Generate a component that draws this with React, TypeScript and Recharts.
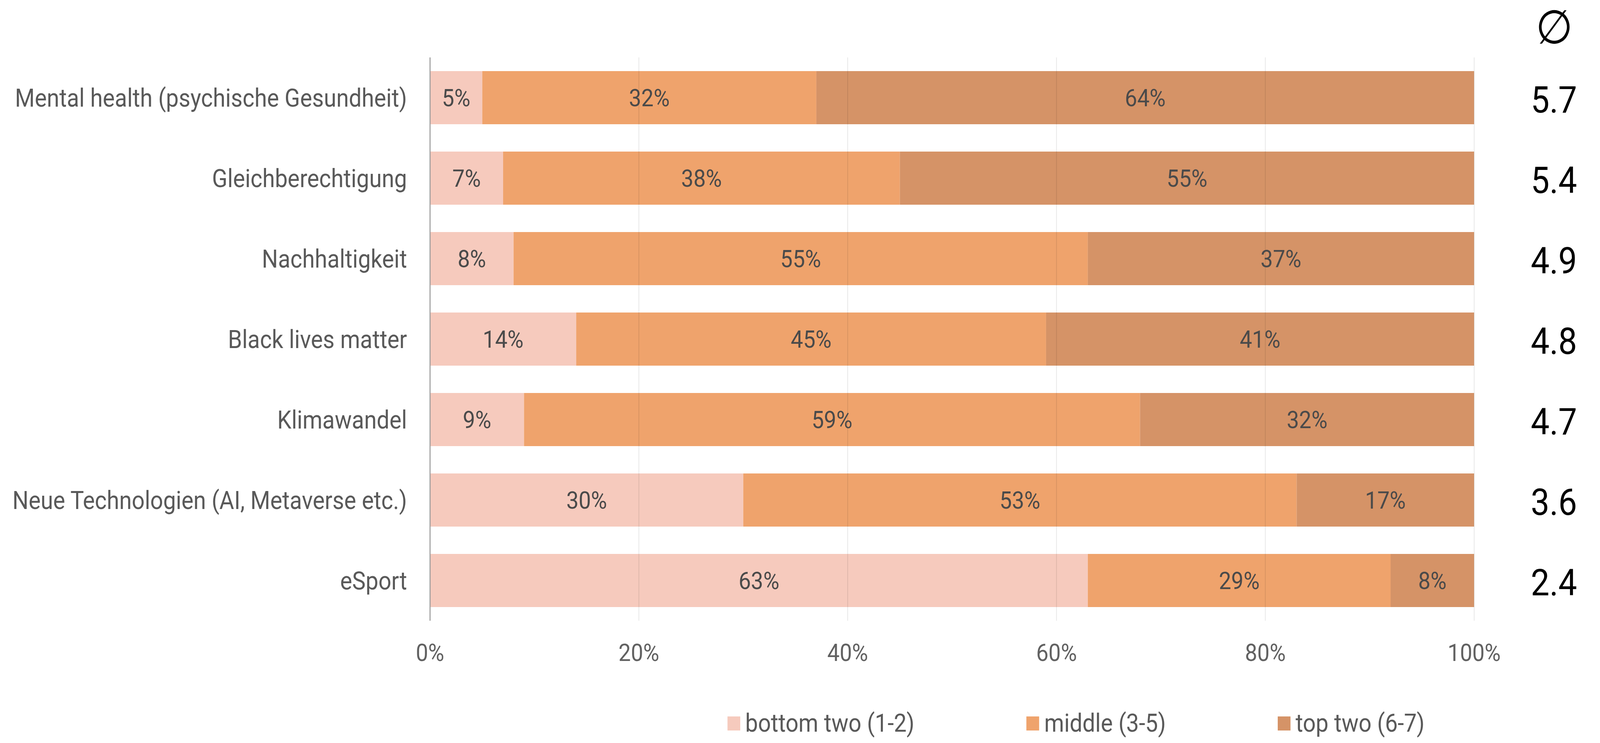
import React from 'react';
import { BarChart, Bar, XAxis, YAxis, ReferenceLine, LabelList } from 'recharts';

const categories = [
  'Mental health (psychische Gesundheit)',
  'Gleichberechtigung',
  'Nachhaltigkeit',
  'Black lives matter',
  'Klimawandel',
  'Neue Technologien (AI, Metaverse etc.)',
  'eSport',
];
const bottomTwo = [5, 7, 8, 14, 9, 30, 63];
const middle = [32, 38, 55, 45, 59, 53, 29];
const topTwo = [64, 55, 37, 41, 32, 17, 8];
const means = ['5.7', '5.4', '4.9', '4.8', '4.7', '3.6', '2.4'];
const xTicks = [0, 20, 40, 60, 80, 100];
const gridValues = [20, 40, 60, 80, 100];
const seriesNames = ['bottom two (1-2)', 'middle (3-5)', 'top two (6-7)'];
const seriesKeys = ['bottom', 'middle', 'top'];
const seriesColors = ['#F6CABD', '#EFA36C', '#D59367'];

const data = categories.map((name, i) => ({
  name,
  bottom: bottomTwo[i],
  middle: middle[i],
  top: topTwo[i],
}));

const FONT = 'Roboto, "Noto Sans", sans-serif';
const W = 4513;
const H = 1902;
const VIEW_W = 4096;

const MeanTick = (props: any) => {
  const { x, y, payload } = props;
  const i = categories.indexOf(payload.value);
  return (
    <text
      x={x + 225}
      y={y + 6}
      textAnchor="middle"
      dominantBaseline="central"
      fontSize={94}
      fill="#000"
      fontFamily={FONT}
    >
      {means[i]}
    </text>
  );
};

export default function App() {
  return (
    <div style={{ position: 'absolute', left: 0, top: 0, width: VIEW_W, height: H, overflow: 'hidden', background: '#fff' }}>
      <div
        style={{
          position: 'absolute',
          left: 0,
          top: 0,
          width: W,
          height: H,
          transform: `scaleX(${VIEW_W / W})`,
          transformOrigin: '0 0',
          fontFamily: FONT,
        }}
      >
        <BarChart
          width={W}
          height={H}
          data={data}
          layout="vertical"
          margin={{ top: 147, right: 0, bottom: 0, left: 0 }}
        >
          <XAxis
            type="number"
            domain={[0, 100]}
            ticks={xTicks}
            allowDataOverflow
            tickFormatter={(v: number) => `${v}%`}
            axisLine={false}
            tickLine={false}
            tickSize={0}
            tickMargin={59}
            height={313}
            tick={{ fontSize: 62, fill: '#616161', fontFamily: FONT }}
          />
          <YAxis
            yAxisId="left"
            type="category"
            dataKey="name"
            width={1213}
            tickLine={false}
            tickSize={0}
            tickMargin={65}
            axisLine={{ stroke: '#9e9e9e', strokeWidth: 3 }}
            tick={{ fontSize: 64, fill: '#595959', fontFamily: FONT }}
            interval={0}
          />
          <YAxis
            yAxisId="right"
            orientation="right"
            type="category"
            dataKey="name"
            width={355}
            tickLine={false}
            tickSize={0}
            tickMargin={0}
            axisLine={false}
            tick={<MeanTick />}
            interval={0}
          />
          {seriesKeys.map((k, si) => (
            <Bar
              key={k}
              yAxisId="left"
              dataKey={k}
              name={seriesNames[si]}
              stackId="a"
              fill={seriesColors[si]}
              barSize={136}
              isAnimationActive={false}
            >
              <LabelList
                dataKey={k}
                position="center"
                formatter={(v: any) => `${v}%`}
                fill="#4a4a4a"
                fontSize={62}
                fontFamily={FONT}
              />
            </Bar>
          ))}
          {gridValues.map((v) => (
            <ReferenceLine
              key={v}
              yAxisId="left"
              x={v}
              stroke="#000"
              strokeOpacity={0.1}
              strokeWidth={2}
              ifOverflow="visible"
            />
          ))}
        </BarChart>
        <div
          style={{
            position: 'absolute',
            left: 4384,
            top: 0,
            transform: 'translateX(-50%)',
            fontFamily: '"DejaVu Sans", sans-serif',
            fontSize: 120,
            lineHeight: '140px',
            color: '#000',
          }}
        >
          ∅
        </div>
        <div
          style={{
            position: 'absolute',
            left: 2052,
            top: 1820,
            display: 'flex',
            alignItems: 'center',
            gap: 316,
            fontFamily: FONT,
            fontSize: 64,
            lineHeight: '64px',
            color: '#595959',
            whiteSpace: 'nowrap',
          }}
        >
          {seriesNames.map((n, i) => (
            <div key={n} style={{ display: 'flex', alignItems: 'center' }}>
              <div style={{ width: 36, height: 36, background: seriesColors[i], marginRight: 14 }} />
              <span style={{ lineHeight: '64px' }}>{n}</span>
            </div>
          ))}
        </div>
      </div>
    </div>
  );
}
